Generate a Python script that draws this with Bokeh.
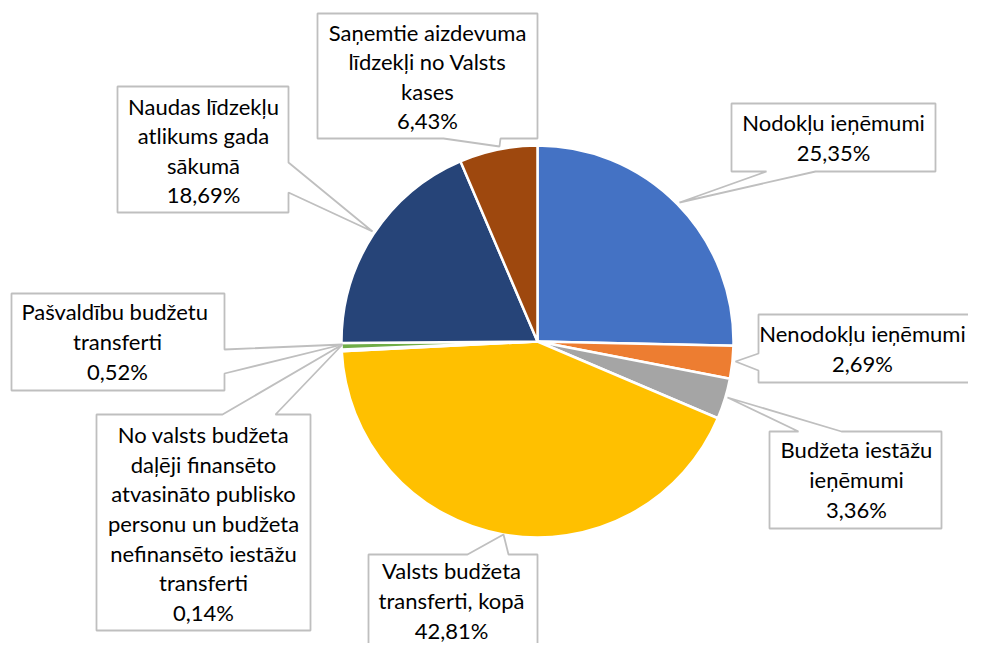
import math
from bokeh.plotting import figure
from bokeh.models import ColumnDataSource, Range1d
from bokeh.core.properties import value
from bokeh.embed import file_html
from bokeh.resources import INLINE

# ---- data ----
categories = [
    "Nodokļu ieņēmumi",
    "Nenodokļu ieņēmumi",
    "Budžeta iestāžu ieņēmumi",
    "Valsts budžeta transferti, kopā",
    "No valsts budžeta daļēji finansēto atvasināto publisko personu un budžeta nefinansēto iestāžu transferti",
    "Pašvaldību  budžetu transferti",
    "Naudas līdzekļu atlikums gada sākumā",
    "Saņemtie aizdevuma līdzekļi no Valsts kases",
]
shares = [25.35, 2.69, 3.36, 42.81, 0.14, 0.52, 18.69, 6.43]
share_labels = ["25,35%", "2,69%", "3,36%", "42,81%", "0,14%", "0,52%", "18,69%", "6,43%"]
label_lines = [
    "Nodokļu ieņēmumi",
    "Nenodokļu ieņēmumi",
    "Budžeta iestāžu\nieņēmumi",
    "Valsts budžeta\ntransferti, kopā",
    "No valsts budžeta\ndaļēji finansēto\natvasināto publisko\npersonu un budžeta\nnefinansēto iestāžu\ntransferti",
    "Pašvaldību  budžetu\ntransferti",
    "Naudas līdzekļu\natlikums gada\nsākumā",
    "Saņemtie aizdevuma\nlīdzekļi no Valsts\nkases",
]
colors = ["#4472C4", "#ED7D31", "#A5A5A5", "#FFC000", "#5B9BD5", "#70AD47", "#264478", "#9E480E"]

# ---- layout (image pixel coordinates) ----
W, H = 968, 643
cx, cy, r = 537, 341, 196

# callout boxes: (x0, y0, x1, y1, side, a, b, tip_x, tip_y, text_x, text_y)
callouts = [
    (731, 103, 935, 171, "bottom", 766, 815, 679, 202, 833, 137),
    (758, 314, 995, 382, "left", 353, 370, 735, 361, 862, 348),
    (769, 431, 941, 528, "top", 798, 841, 727, 397, 856, 479),
    (368, 554, 537, 680, "top", 467, 508, 503, 534, 451, 600),
    (96, 414, 310, 630, "top", 222, 275, 342, 344, 203, 523),
    (11, 293, 224, 390, "right", 349, 373, 342, 344, 117, 341),
    (117, 86, 288, 212, "right", 162, 192, 372, 231, 203, 150),
    (317, 13, 537, 138, "bottom", 443, 500, 499, 146, 427, 76),
]

def fy(y):
    return H - y

p = figure(width=W, height=H, output_backend="svg", toolbar_location=None,
           x_range=Range1d(0, W), y_range=Range1d(0, H),
           min_border=0, outline_line_color=None)
p.axis.visible = False
p.grid.visible = False
p.background_fill_color = "white"
p.border_fill_color = "white"

# ---- pie ----
total = sum(shares)
starts, ends = [], []
acc = 0.0
for s in shares:
    starts.append(math.pi / 2 - 2 * math.pi * acc / total)
    acc += s
    ends.append(math.pi / 2 - 2 * math.pi * acc / total)
src = ColumnDataSource(dict(start=starts, end=ends, color=colors, cat=categories))
p.wedge(x=cx, y=fy(cy), radius=r, start_angle="start", end_angle="end",
        direction="clock", fill_color="color", line_color="white", line_width=2.5,
        source=src)

# ---- callouts ----
xs, ys = [], []
for (x0, y0, x1, y1, side, a, b, tx, ty, _, _) in callouts:
    pts = [(x0, y0)]
    if side == "top":
        pts += [(a, y0), (tx, ty), (b, y0)]
    pts += [(x1, y0)]
    if side == "right":
        pts += [(x1, a), (tx, ty), (x1, b)]
    pts += [(x1, y1)]
    if side == "bottom":
        pts += [(b, y1), (tx, ty), (a, y1)]
    pts += [(x0, y1)]
    if side == "left":
        pts += [(x0, b), (tx, ty), (x0, a)]
    xs.append([q[0] for q in pts])
    ys.append([fy(q[1]) for q in pts])
p.patches(xs, ys, fill_color="white", line_color="#BFBFBF", line_width=1.8)

texts = [f"{l}\n{s}" for l, s in zip(label_lines, share_labels)]
tsrc = ColumnDataSource(dict(
    x=[c[9] for c in callouts], y=[fy(c[10]) for c in callouts], t=texts))
fs = 22
p.text(x="x", y="y", text="t", source=tsrc, text_align="center", text_baseline="middle",
       text_font=value("Lato"), text_font_size=f"{fs}px", text_color="#000000",
       text_line_height=29 / (fs * 1.2))

open("out.html", "w").write(file_html(p, INLINE))
